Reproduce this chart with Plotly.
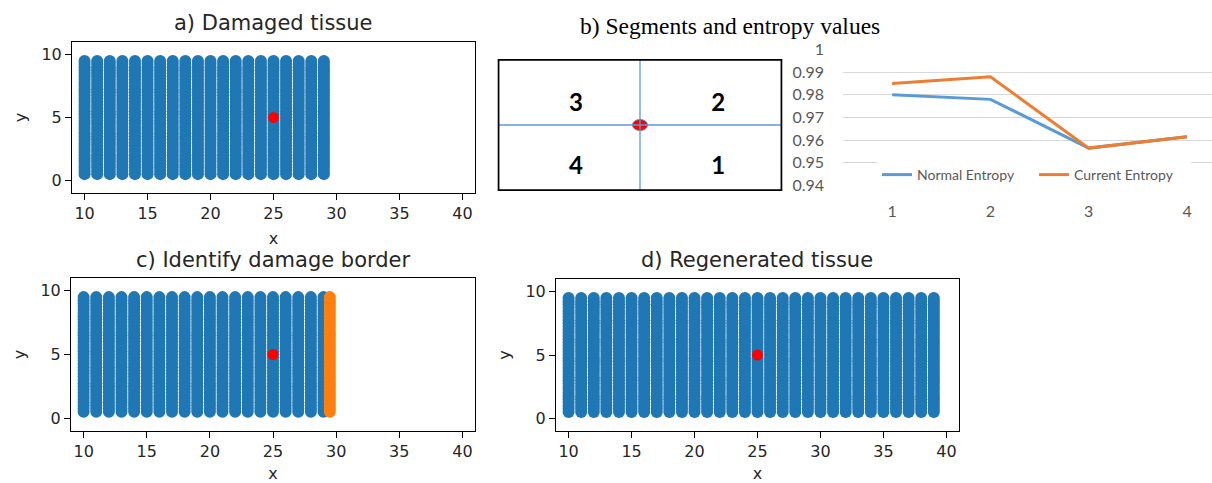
import plotly.graph_objects as go

W, H = 1212, 483

# ---------------- data ----------------
damaged_cols = [10, 11, 12, 13, 14, 15, 16, 17, 18, 19,
                20, 21, 22, 23, 24, 25, 26, 27, 28, 29]
border_cols = [29.5]
regen_cols = [10, 11, 12, 13, 14, 15, 16, 17, 18, 19,
              20, 21, 22, 23, 24, 25, 26, 27, 28, 29,
              30, 31, 32, 33, 34, 35, 36, 37, 38, 39]
rows = [0.5, 0.75, 1.0, 1.25, 1.5, 1.75, 2.0, 2.25, 2.5, 2.75,
        3.0, 3.25, 3.5, 3.75, 4.0, 4.25, 4.5, 4.75, 5.0, 5.25,
        5.5, 5.75, 6.0, 6.25, 6.5, 6.75, 7.0, 7.25, 7.5, 7.75,
        8.0, 8.25, 8.5, 8.75, 9.0, 9.25, 9.5]
center_x = [25]
center_y = [5]
x_ticks = [10, 15, 20, 25, 30, 35, 40]
y_ticks = [0, 5, 10]

segments = [1, 2, 3, 4]
segment_labels = ["1", "2", "3", "4"]
seg_qx = [1, 1, -1, -1]     # quadrant of each segment (right/left)
seg_qy = [-1, 1, 1, -1]     # quadrant of each segment (top/bottom)
normal_entropy = [0.980, 0.978, 0.9565, 0.9615]
current_entropy = [0.985, 0.988, 0.9565, 0.9615]
entropy_ticks = [0.94, 0.95, 0.96, 0.97, 0.98, 0.99, 1.0]
entropy_ticktext = ["0.94", "0.95", "0.96", "0.97", "0.98", "0.99", "1"]

BLUE = "#1f77b4"
ORANGE = "#ff7f0e"
RED = "#ff0000"
XL_BLUE = "#5B9BD5"
XL_ORANGE = "#ED7D31"


def xdom(a, b):
    return [a / W, b / W]


def ydom(top, bottom):
    return [1 - bottom / H, 1 - top / H]


def grid(cols, rws):
    xs, ys = [], []
    for c in cols:
        for r in rws:
            xs.append(c)
            ys.append(r)
    return xs, ys


fig = go.Figure()

MS = 12.0


def add_tissue(n, cols, extra_cols=None):
    xa = "x" if n == 1 else f"x{n}"
    ya = "y" if n == 1 else f"y{n}"
    gx, gy = grid(cols, rows)
    fig.add_trace(go.Scatter(x=gx, y=gy, mode="markers", xaxis=xa, yaxis=ya,
                             marker=dict(color=BLUE, size=MS, line=dict(width=0)),
                             showlegend=False, hoverinfo="skip"))
    if extra_cols:
        ex, ey = grid(extra_cols, rows)
        fig.add_trace(go.Scatter(x=ex, y=ey, mode="markers", xaxis=xa, yaxis=ya,
                                 marker=dict(color=ORANGE, size=MS, line=dict(width=0)),
                                 showlegend=False, hoverinfo="skip"))
    fig.add_trace(go.Scatter(x=center_x, y=center_y, mode="markers", xaxis=xa, yaxis=ya,
                             marker=dict(color=RED, size=11, line=dict(width=0)),
                             showlegend=False, hoverinfo="skip"))


add_tissue(1, damaged_cols)
add_tissue(2, damaged_cols, border_cols)
add_tissue(3, regen_cols)

# entropy chart
fig.add_trace(go.Scatter(x=segments, y=normal_entropy, mode="lines", name="Normal Entropy",
                         xaxis="x4", yaxis="y4", line=dict(color=XL_BLUE, width=3)))
fig.add_trace(go.Scatter(x=segments, y=current_entropy, mode="lines", name="Current Entropy",
                         xaxis="x4", yaxis="y4", line=dict(color=XL_ORANGE, width=3)))

# segment diagram labels
fig.add_trace(go.Scatter(x=[0.05 + 0.5 * q for q in seg_qx],
                         y=[-0.175 + 0.475 * q for q in seg_qy],
                         text=segment_labels, mode="text", xaxis="x5", yaxis="y5",
                         textfont=dict(family="Lato", size=24, color="black", weight="bold"),
                         showlegend=False, hoverinfo="skip"))

tickfont = dict(family="DejaVu Sans", size=16, color="#262626")


def mpl_axis(dom, rng, tv, title, anchor, standoff):
    return dict(domain=dom, range=rng, tickvals=tv, showline=True, linecolor="black",
                linewidth=1, mirror=True, ticks="outside", ticklen=6, tickwidth=1,
                tickcolor="black", showgrid=False, zeroline=False, tickfont=tickfont,
                anchor=anchor, fixedrange=True, automargin=False,
                title=dict(text=title, font=dict(family="DejaVu Sans", size=16, color="#262626"),
                           standoff=standoff))


layout = dict(
    width=W, height=H, margin=dict(l=0, r=0, t=0, b=0, autoexpand=False),
    paper_bgcolor="white", plot_bgcolor="white",
    xaxis=mpl_axis(xdom(72, 475), [9, 41], x_ticks, "x", "y", 10),
    yaxis=mpl_axis(ydom(42, 193), [-1, 11], y_ticks, "y", "x", 10),
    xaxis2=mpl_axis(xdom(71, 475), [9, 41], x_ticks, "x", "y2", 10),
    yaxis2=mpl_axis(ydom(278, 431), [-1, 11], y_ticks, "y", "x2", 10),
    xaxis3=mpl_axis(xdom(556, 959), [9, 41], x_ticks, "x", "y3", 10),
    yaxis3=mpl_axis(ydom(279, 431), [-1, 11], y_ticks, "y", "x3", 10),
    xaxis4=dict(domain=xdom(843, 1212), range=[0.5, 4.254], tickvals=segments,
                showgrid=False, showline=False, zeroline=False, ticks="",
                ticklabelstandoff=14, anchor="y4", fixedrange=True, automargin=False,
                tickfont=dict(family="Lato", size=16, color="#595959")),
    yaxis4=dict(domain=ydom(49.3, 185.7), range=[0.9399, 1.0001], tickvals=entropy_ticks,
                ticktext=entropy_ticktext, showgrid=True, gridcolor="#D9D9D9", gridwidth=1,
                showline=False, zeroline=False, ticks="", ticklabelstandoff=18,
                anchor="x4", fixedrange=True, automargin=False,
                tickfont=dict(family="Lato", size=16, color="#595959")),
    xaxis5=dict(domain=xdom(497.7, 782.3), range=[-1, 1], visible=False, anchor="y5",
                fixedrange=True),
    yaxis5=dict(domain=ydom(59, 191), range=[-1, 1], visible=False, anchor="x5",
                fixedrange=True),
    legend=dict(orientation="h", x=877 / W, y=1 - 175 / H, xanchor="left", yanchor="middle",
                bgcolor="white", font=dict(family="Lato", size=14, color="#595959"),
                itemwidth=30, tracegroupgap=0, entrywidth=112, entrywidthmode="pixels"),
    showlegend=True,
)
fig.update_layout(**layout)

# diagram shapes
ex, ey = 7.5 / 142.3, 5.5 / 66
fig.add_shape(type="circle", xref="x5", yref="y5", x0=-ex, x1=ex, y0=-ey, y1=ey,
              fillcolor=RED, line=dict(color="#6B7EA8", width=1))
fig.add_shape(type="line", xref="x5", yref="y5", x0=0, x1=0, y0=-1.03, y1=1.03,
              line=dict(color=XL_BLUE, width=1.3))
fig.add_shape(type="line", xref="x5", yref="y5", x0=-1, x1=1, y0=0, y1=0,
              line=dict(color=XL_BLUE, width=1.3))
fig.add_shape(type="rect", xref="x5", yref="y5", x0=-1, x1=1, y0=-1, y1=1,
              line=dict(color="black", width=3.5), layer="above")

# titles
title_font = dict(family="DejaVu Sans", size=21, color="#262626")
titles = [
    ("a) Damaged tissue", 273.5, 23, title_font),
    ("c) Identify damage border", 273, 260, title_font),
    ("d) Regenerated tissue", 757, 260, title_font),
    ("b) Segments and entropy values", 730, 26,
     dict(family="Liberation Serif", size=23.5, color="black")),
]
for txt, px, py, f in titles:
    fig.add_annotation(text=txt, x=px / W, y=1 - py / H, xref="paper", yref="paper",
                       xanchor="center", yanchor="middle", showarrow=False, font=f)

fig.write_html("out.html", config={"displayModeBar": False, "staticPlot": True},
               post_script="document.body.style.margin='0px';document.body.style.overflow='hidden';")
